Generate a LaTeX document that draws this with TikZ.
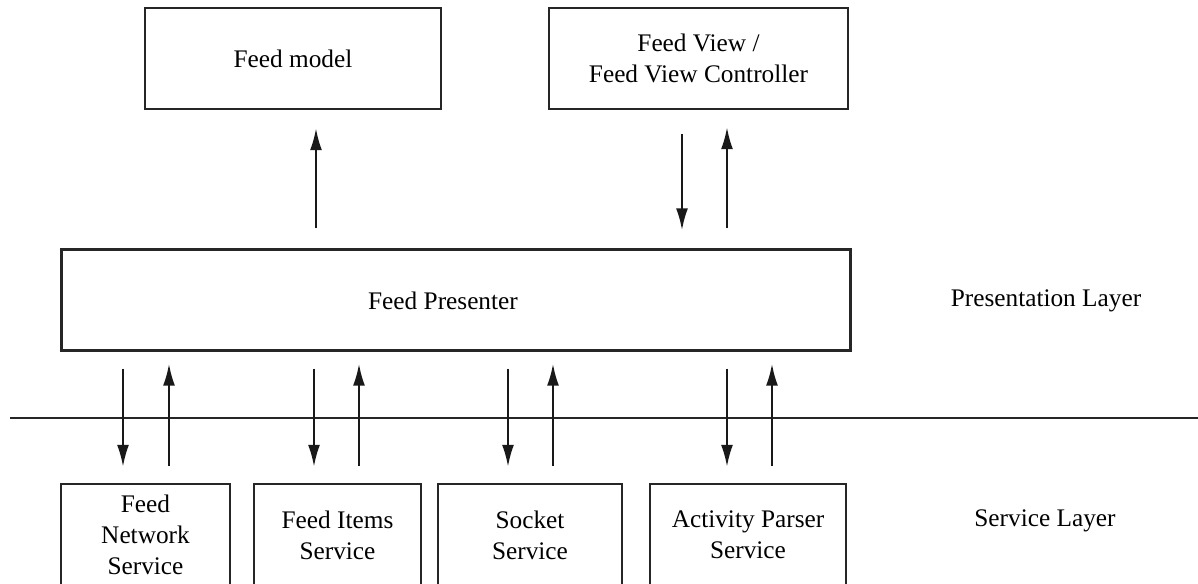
\documentclass[tikz,border=0pt]{standalone}
\usepackage{fontspec}
\setmainfont{Liberation Serif}
\usetikzlibrary{arrows.meta}
\tikzset{
  box/.style={draw=black!85, line width=1.4pt, align=center, inner sep=0pt,
    font=\fontsize{14.4}{17.6}\selectfont},
  lbl/.style={align=center, inner sep=0pt, font=\fontsize{14.4}{17.6}\selectfont},
  arr/.style={line width=1.25pt, draw=black!90,
    -{Latex[length=0.44cm,width=0.24cm]}},
  divider/.style={line width=1.3pt, draw=black!85}
}
\begin{document}
\begin{tikzpicture}[x=0.02cm,y=-0.02cm]
  \useasboundingbox (0,0) rectangle (1198,584);
  \clip (0,0) rectangle (1198,584);

  % upper row
  \node[box, minimum width=5.92cm, minimum height=2.02cm] (model) at (293,58.5) {Feed model};
  \node[box, minimum width=5.98cm, minimum height=2.02cm] (view) at (698.5,58.5)
    {Feed View /\\Feed View Controller};

  % presenter
  \node[box, minimum width=15.78cm, minimum height=2.02cm] (pres) at (456,300) {};
  \node[lbl] (prestext) at (443,301) {Feed Presenter};

  % service boxes (run past the lower edge)
  \node[box, minimum width=3.38cm, minimum height=2.04cm] (net) at (145.5,535)
    {Feed\\Network\\Service};
  \node[box, minimum width=3.34cm, minimum height=2.04cm] (items) at (337.5,535)
    {Feed Items\\Service};
  \node[box, minimum width=3.68cm, minimum height=2.04cm] (socket) at (530,535)
    {Socket\\Service};
  \node[box, minimum width=3.92cm, minimum height=2.04cm] (parser) at (748,535)
    {Activity Parser\\Service};

  % layer captions
  \node[lbl] (preslayer) at (1046,301) {Presentation Layer};
  \node[lbl] (servlayer) at (1045,521) {Service Layer};

  % layer boundary
  \coordinate (divL) at (10,418);
  \coordinate (divR) at (1198,418);
  \draw[divider] (divL) -- (divR);

  % presenter <-> upper row
  \draw[arr, shorten <=0.4cm, shorten >=0.36cm] (pres.north -| 316,0) -- (model.south -| 316,0);
  \draw[arr, shorten <=0.48cm, shorten >=0.36cm] (view.south -| 682,0) -- (pres.north -| 682,0);
  \draw[arr, shorten <=0.4cm, shorten >=0.34cm] (pres.north -| 727,0) -- (view.south -| 727,0);

  % presenter <-> services
  \draw[arr, shorten <=0.34cm, shorten >=0.32cm] (pres.south -| 123,0) -- (net.north -| 123,0);
  \draw[arr, shorten <=0.34cm, shorten >=0.24cm] (net.north -| 169,0) -- (pres.south -| 169,0);
  \draw[arr, shorten <=0.34cm, shorten >=0.32cm] (pres.south -| 314,0) -- (items.north -| 314,0);
  \draw[arr, shorten <=0.34cm, shorten >=0.24cm] (items.north -| 359,0) -- (pres.south -| 359,0);
  \draw[arr, shorten <=0.34cm, shorten >=0.32cm] (pres.south -| 508,0) -- (socket.north -| 508,0);
  \draw[arr, shorten <=0.34cm, shorten >=0.24cm] (socket.north -| 553,0) -- (pres.south -| 553,0);
  \draw[arr, shorten <=0.34cm, shorten >=0.32cm] (pres.south -| 727,0) -- (parser.north -| 727,0);
  \draw[arr, shorten <=0.34cm, shorten >=0.24cm] (parser.north -| 772,0) -- (pres.south -| 772,0);
\end{tikzpicture}
\end{document}
